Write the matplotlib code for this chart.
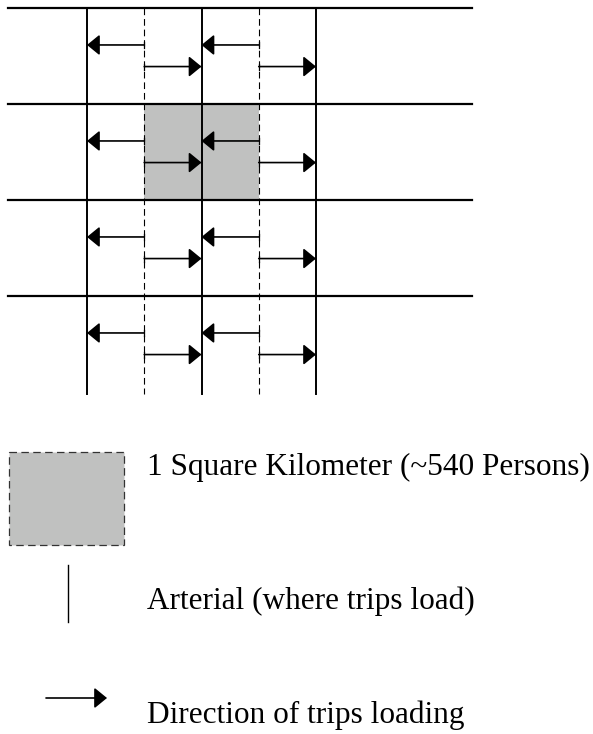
import matplotlib.pyplot as plt
from matplotlib.patches import Rectangle

# grid layout (in grid units: columns = arterial spacing, rows = block spacing)
arterial_cols = [0, 1, 2]          # solid vertical lines
half_cols = [0.5, 1.5]             # dashed zone boundaries
street_rows = [0, 1, 2, 3]         # horizontal streets
left_rows = [0.385, 1.385, 2.385, 3.385]
right_rows = [0.61, 1.61, 2.61, 3.61]
shaded_zone = (0.5, 1, 1, 1)       # x, y, width, height
legend_labels = ["1 Square Kilometer (~540 Persons)",
                 "Arterial (where trips load)",
                 "Direction of trips loading"]

# pixel mapping
x0, dx = 87, 114.5
y0, dy = 8, 96
def px(c):
    return x0 + dx * c
def py(r):
    return y0 + dy * r

W, H = 593, 734
fig = plt.figure(figsize=(W / 100, H / 100), dpi=100)
ax = fig.add_axes([0, 0, 1, 1])
ax.set_xlim(0, W)
ax.set_ylim(H, 0)
ax.axis("off")

grey = "#c0c1c0"
x, y, w, h = shaded_zone
ax.add_patch(Rectangle((px(x), py(y)), dx * w, dy * h, facecolor=grey,
                       edgecolor="none", zorder=1))

for r in street_rows:
    ax.plot([8, 472], [py(r), py(r)], color="black", lw=1.6, zorder=3)
for c in arterial_cols:
    ax.plot([px(c), px(c)], [py(0), py(4.02)], color="black", lw=1.4, zorder=3)
for c in half_cols:
    ax.plot([px(c), px(c)], [py(0), py(4.02)], color="black", lw=0.8,
            dashes=(6, 3.5), zorder=3)

arrow_kw = dict(arrowstyle="-|>,head_length=0.55,head_width=0.45",
                color="black", lw=1.2, mutation_scale=14,
                shrinkA=0, shrinkB=0)
for c in half_cols:
    for r in left_rows:
        ax.annotate("", xy=(px(c - 0.5), py(r)), xytext=(px(c), py(r)),
                    arrowprops=arrow_kw, zorder=4)
        ax.plot([px(c), px(c)], [py(r) - 3, py(r) + 3], color="black", lw=0.9)
    for r in right_rows:
        ax.annotate("", xy=(px(c + 0.5), py(r)), xytext=(px(c), py(r)),
                    arrowprops=arrow_kw, zorder=4)
        ax.plot([px(c), px(c)], [py(r) - 3, py(r) + 3], color="black", lw=0.9)

# legend
ax.add_patch(Rectangle((9, 452), 115, 93, facecolor=grey, edgecolor="#333333",
                       lw=0.9, linestyle=(0, (6, 3.5)), zorder=2))
ax.plot([68, 68], [565, 622], color="black", lw=1.0)
ax.annotate("", xy=(107, 698), xytext=(46, 698), arrowprops=arrow_kw)

font = dict(family="Liberation Serif", fontsize=22.5, color="black", va="baseline")
ax.text(147, 475, legend_labels[0], **font)
ax.text(147, 609, legend_labels[1], **font)
ax.text(147, 723, legend_labels[2], **font)

fig.savefig("out.png", dpi=100)
